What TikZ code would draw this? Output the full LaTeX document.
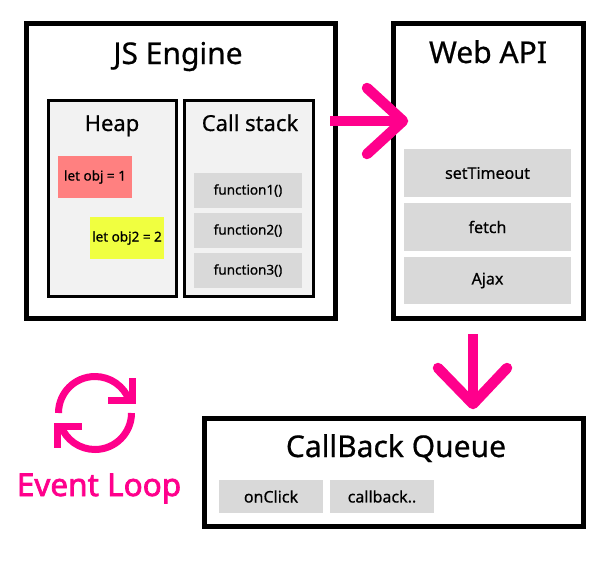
\documentclass[tikz,border=0pt]{standalone}
\usepackage{fontspec}
\setmainfont{Noto Sans}[FakeBold=0.6]
\newfontfamily\heavyfont{Noto Sans}[FakeBold=2.2]
\usetikzlibrary{calc}

\definecolor{loopink}{RGB}{255,0,140}
\definecolor{boxgray}{RGB}{242,242,242}
\definecolor{cellgray}{RGB}{217,217,217}
\definecolor{objred}{RGB}{255,128,128}
\definecolor{objyellow}{RGB}{240,255,64}

\tikzset{
	outer/.style={draw=black, line width=5pt, inner sep=0pt},
	inner/.style={draw=black, line width=3pt, fill=boxgray, inner sep=0pt},
	cell/.style={fill=cellgray, inner sep=0pt},
	title/.style={anchor=base, font=\bfseries\fontsize{30}{35}\selectfont},
	subtitle/.style={anchor=base, font=\bfseries\fontsize{22}{26}\selectfont},
	flow/.style={draw=loopink, line width=10.5pt},
}

\begin{document}
\begin{tikzpicture}[x=1pt,y=-1pt]
	\useasboundingbox (0,0) rectangle (612,562);

	% JS Engine
	\node[outer, minimum width=309pt, minimum height=295pt] (js) at (181,171) {};
	\node[title] (jst) at (178,64) {JS Engine};
	\node[inner, minimum width=128pt, minimum height=196pt] (heap) at (112.5,198.5) {};
	\node[subtitle] (heapt) at (112,131) {Heap};
	\node[inner, minimum width=129pt, minimum height=196pt] (stack) at (249,198.5) {};
	\node[subtitle] (stackt) at (250,131) {Call stack};

	\node[fill=objred, inner sep=0pt, minimum width=74pt, minimum height=42pt,
		font=\fontsize{13.5}{16}\selectfont] (obj1) at (95,177) {let obj = 1};
	\node[fill=objyellow, inner sep=0pt, minimum width=74pt, minimum height=42pt,
		font=\fontsize{13.5}{16}\selectfont] (obj2) at (127,238) {let obj2 = 2};

	\foreach \i/\y in {1/190.5, 2/230.5, 3/270.5}
		\node[cell, minimum width=108pt, minimum height=35pt,
			font=\fontsize{13.5}{16}\selectfont] (f\i) at (248,\y) {function\i()};

	% Web API
	\node[outer, minimum width=190pt, minimum height=295pt] (web) at (488.5,171) {};
	\node[title] (webt) at (488,63) {Web API};
	\node[cell, minimum width=167pt, minimum height=48pt, font=\fontsize{16}{19}\selectfont] (w1) at (487.5,173) {setTimeout};
	\node[cell, minimum width=167pt, minimum height=48pt, font=\fontsize{16}{19}\selectfont] (w2) at (487.5,227) {fetch};
	\node[cell, minimum width=167pt, minimum height=47pt, font=\fontsize{16}{19}\selectfont] (w3) at (487.5,280.5) {Ajax};

	% CallBack Queue
	\node[outer, minimum width=379pt, minimum height=108pt] (queue) at (394,472.5) {};
	\node[title] (queuet) at (396,457) {CallBack Queue};
	\node[cell, minimum width=104pt, minimum height=33pt, font=\fontsize{16}{19}\selectfont] (q1) at (271,496.5) {onClick};
	\node[cell, minimum width=104pt, minimum height=33pt, font=\fontsize{16}{19}\selectfont] (q2) at (382,496.5) {callback..};

	% arrows
	\coordinate (r0) at (330,121);
	\coordinate (r1) at (403,121);
	\draw[flow] (r0) -- (r1);
	\draw[flow, line cap=round, line join=round] ($(r1)+(-36,-33)$) -- (r1) -- ($(r1)+(-36,33)$);

	\coordinate (d0) at (473,334);
	\coordinate (d1) at (473,404);
	\draw[flow] (d0) -- (d1);
	\draw[flow, line cap=round, line join=round] ($(d1)+(-35,-36)$) -- (d1) -- ($(d1)+(34,-36)$);

	% Event Loop
	\coordinate (loop) at (95,413);
	\draw[draw=loopink, line width=7pt] ($(loop)+(-36.5,0)$) arc[start angle=180, end angle=340, radius=36.5];
	\draw[draw=loopink, line width=7pt] ($(loop)+(36.5,0)$) arc[start angle=0, end angle=160, radius=36.5];
	\draw[draw=loopink, line width=7pt, miter limit=4] (108,400) -- (132.5,400) -- (132.5,378);
	\draw[draw=loopink, line width=7pt, miter limit=4] (82,426) -- (57.5,426) -- (57.5,448);
	\node[anchor=base, text=loopink, font=\heavyfont\fontsize{31.5}{36}\selectfont] (loopt) at (99,496) {Event Loop};
\end{tikzpicture}
\end{document}
